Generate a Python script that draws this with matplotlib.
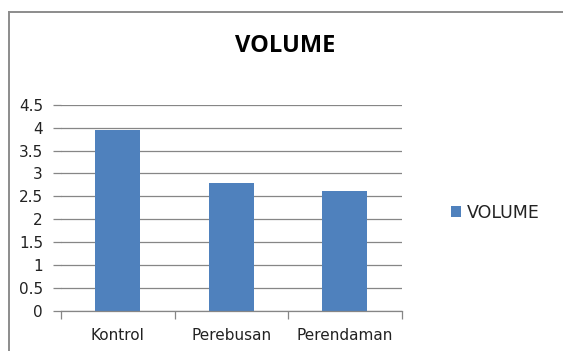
import matplotlib
matplotlib.use("Agg")
import matplotlib.pyplot as plt
from matplotlib.lines import Line2D

plt.rcParams["font.family"] = ["DejaVu Sans"]

# ---- data ---------------------------------------------------------------
categories = ["Kontrol", "Perebusan", "Perendaman"]
volume = [3.95, 2.80, 2.62]
series_name = "VOLUME"
y_ticks = [0, 0.5, 1, 1.5, 2, 2.5, 3, 3.5, 4, 4.5]

BAR = "#4f81bd"
GRID = "#868686"
FRAME = "#8c8c8c"
TXT = "#222222"

W, H = 563, 351
fig = plt.figure(figsize=(W / 100, H / 100), dpi=100)

# outer chart frame (only top and left edges are inside the crop)
fig.add_artist(Line2D([9 / W, 9 / W], [0, 1 - 12 / H], color=FRAME, lw=1.4,
                      transform=fig.transFigure))
fig.add_artist(Line2D([9 / W, 1], [1 - 12 / H, 1 - 12 / H], color=FRAME, lw=1.4,
                      transform=fig.transFigure))

ax = fig.add_axes([61 / W, 1 - 311 / H, (401.5 - 61) / W, (311 - 104.7) / H])
x = range(len(categories))
bars = ax.bar(x, volume, width=0.4, color=BAR, label=series_name, zorder=3)

ax.set_xlim(-0.5, len(categories) - 0.5)
ax.set_ylim(0, 4.5)
ax.set_yticks(y_ticks)
ax.set_yticklabels([f"{v:g}" for v in y_ticks], fontsize=11, color=TXT)
ax.yaxis.grid(True, color=GRID, lw=0.9, zorder=0)
ax.tick_params(axis="y", length=6, color=GRID, width=0.9, pad=7)

# category labels between boundary ticks
ax.set_xticks([i - 0.5 for i in range(len(categories) + 1)])
ax.set_xticklabels([])
ax.set_xticks(list(x), minor=True)
ax.set_xticklabels(categories, minor=True, fontsize=11, color=TXT)
ax.tick_params(axis="x", which="major", length=6, color=GRID, width=0.9)
ax.tick_params(axis="x", which="minor", length=0, pad=12)

for s in ("top", "right", "left"):
    ax.spines[s].set_visible(False)
ax.spines["bottom"].set_color(GRID)
ax.spines["bottom"].set_linewidth(0.9)
ax.spines["bottom"].set_zorder(4)

fig.text(285 / W, 1 - 46 / H, "VOLUME", fontsize=17, fontweight="bold",
         family="Open Sans", ha="center", va="center")

leg = fig.legend(handles=[bars], labels=[series_name], loc="center left",
                 bbox_to_anchor=(435 / W, 1 - 213 / H), frameon=False,
                 handlelength=0.6, handleheight=0.6,
                 handletextpad=0.35, prop={"size": 12.5})
for t in leg.get_texts():
    t.set_color(TXT)

fig.savefig("out.png", dpi=100)
